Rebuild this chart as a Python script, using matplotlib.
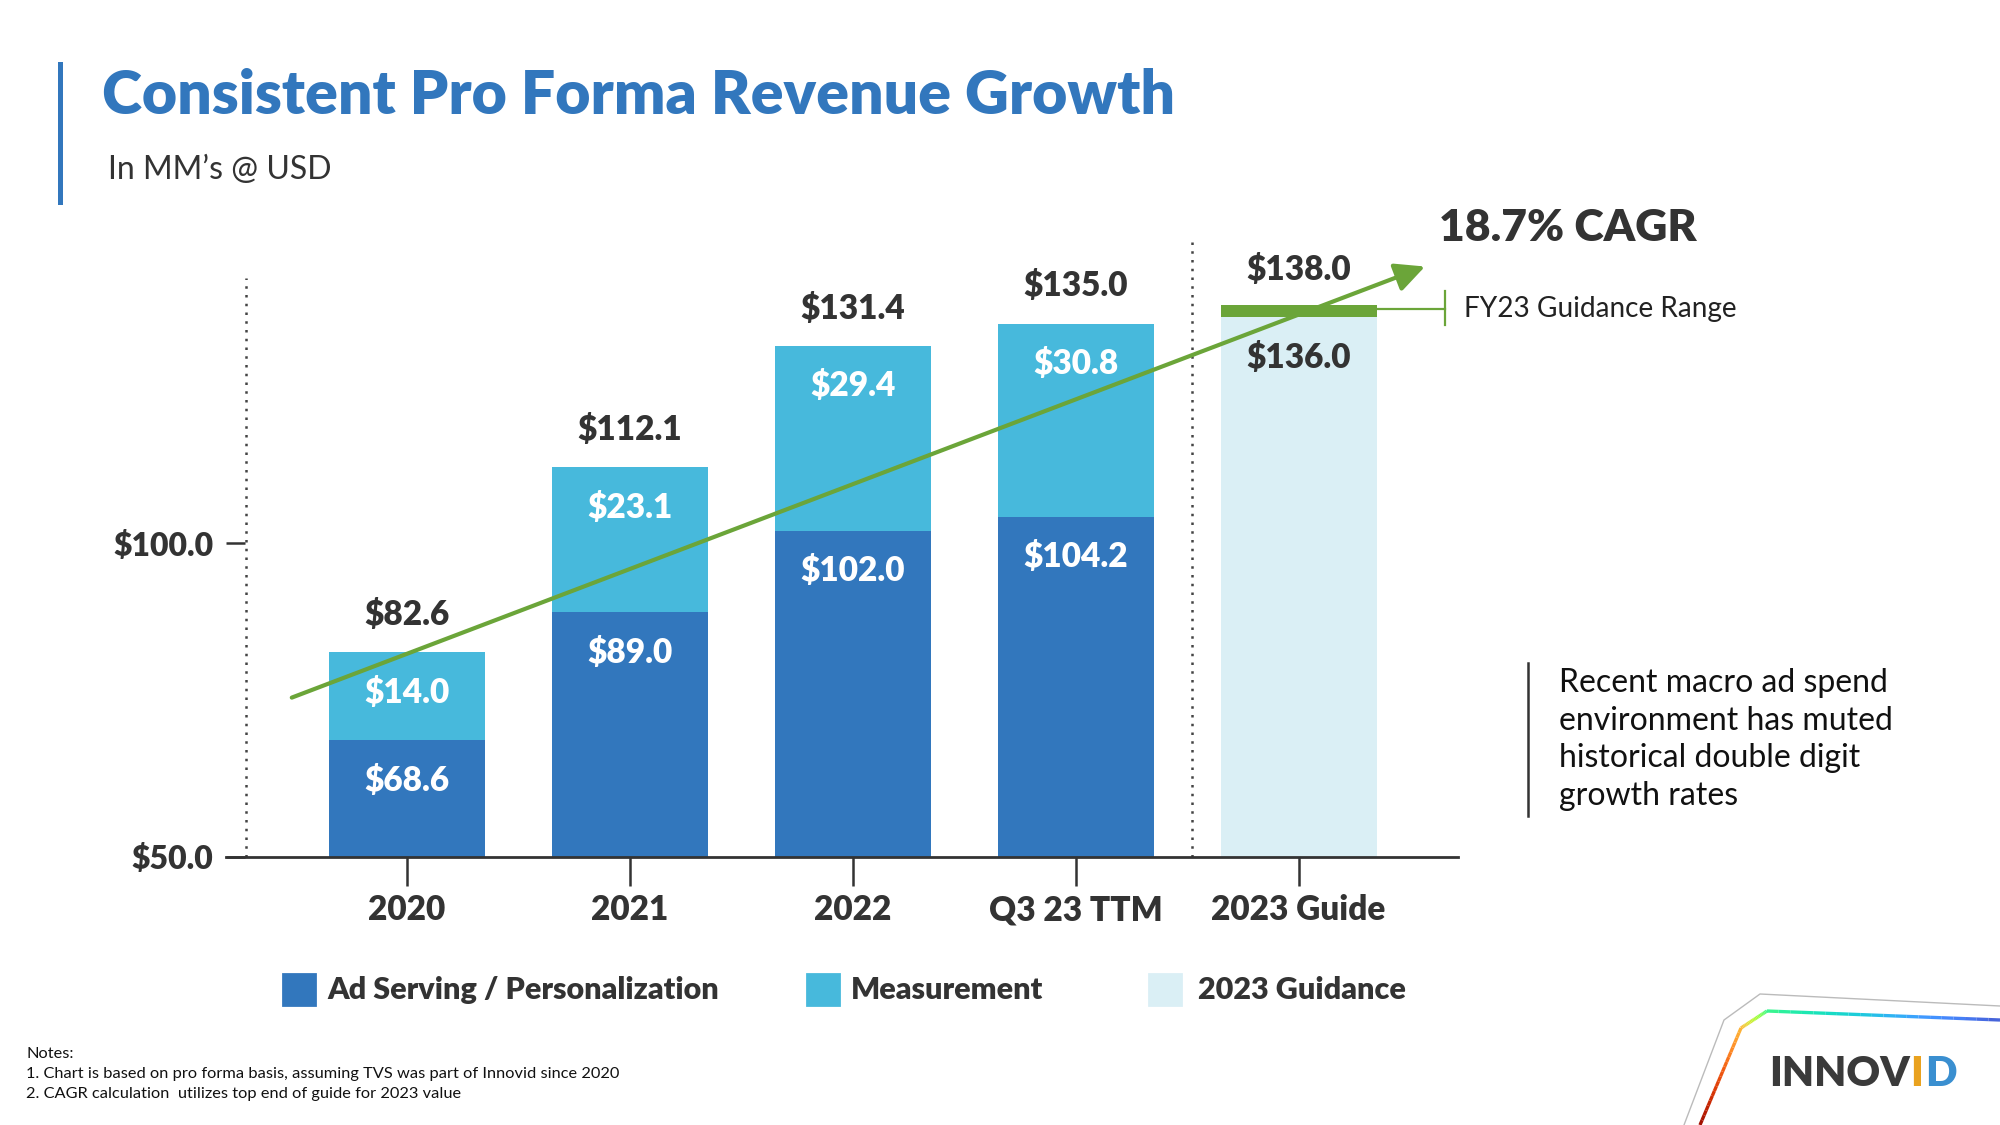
import numpy as np
import matplotlib.pyplot as plt
from matplotlib.patches import Rectangle
from matplotlib.lines import Line2D
from matplotlib.collections import LineCollection

plt.rcParams['font.family'] = ['Lato', 'DejaVu Sans']

# datos
categorias = ['2020', '2021', '2022', 'Q3 23 TTM', '2023 Guide']
ad_serving = [68.6, 89.0, 102.0, 104.2]
medicion = [14.0, 23.1, 29.4, 30.8]
totales = [82.6, 112.1, 131.4, 135.0]
guia_baja = 136.0
guia_alta = 138.0
y_ticks = [50.0, 100.0]
cagr_inicio = 75.4   # punta izquierda de la flecha (lectura del grafico)
cagr_fin = 144.1

azul = '#3277BD'
celeste = '#47B9DC'
guia_color = '#DAEFF5'
verde = '#6BA539'
oscuro = '#333333'

W, H = 2000, 1125
fig = plt.figure(figsize=(10, 5.625), dpi=200)

def fx(px):
    return px / W

def fy(py):
    return 1 - py / H

ax = fig.add_axes([fx(226), fy(857), fx(1458) - fx(226), 100 * 6.275 / H])
ax.set_xlim(-0.81, 4.715)
ax.set_ylim(50, 150)

x = np.arange(len(categorias))
ancho = 0.70
ax.bar(x[:4], ad_serving, width=ancho, color=azul, zorder=2)
ax.bar(x[:4], medicion, bottom=ad_serving, width=ancho, color=celeste, zorder=2)
ax.bar(x[4], guia_baja, width=ancho, color=guia_color, zorder=2)
ax.bar(x[4], guia_alta - guia_baja, bottom=guia_baja, width=ancho, color=verde, zorder=3)

peso = 'heavy'
# etiquetas dentro de las barras
for i in range(4):
    ax.annotate(f'${ad_serving[i]:.1f}', (x[i], ad_serving[i]), xytext=(0, -14.5),
                textcoords='offset points', ha='center', va='center', color='white',
                fontsize=12, fontweight=peso, zorder=5)
    ax.annotate(f'${medicion[i]:.1f}', (x[i], totales[i]), xytext=(0, -14.5),
                textcoords='offset points', ha='center', va='center', color='white',
                fontsize=12, fontweight=peso, zorder=5)
    ax.annotate(f'${totales[i]:.1f}', (x[i], totales[i]), xytext=(0, 13.5),
                textcoords='offset points', ha='center', va='center', color=oscuro,
                fontsize=12, fontweight=peso)
ax.annotate(f'${guia_baja:.1f}', (x[4], guia_baja), xytext=(0, -14.5),
            textcoords='offset points', ha='center', va='center', color=oscuro,
            fontsize=12, fontweight=peso, zorder=5)
ax.annotate(f'${guia_alta:.1f}', (x[4], guia_alta), xytext=(0, 12.5),
            textcoords='offset points', ha='center', va='center', color=oscuro,
            fontsize=12, fontweight=peso)

# lineas punteadas
ax.vlines(-0.72, 50, 142.3, colors='#444444', linestyles=(0, (1, 2.5)), lw=0.9, zorder=1)
ax.vlines(3.52, 50, 149, colors='#444444', linestyles=(0, (1, 2.5)), lw=0.9, zorder=1)

# flecha CAGR
ax.annotate('', xy=(4.567, cagr_fin), xytext=(-0.515, cagr_inicio),
            arrowprops=dict(arrowstyle='-|>,head_length=0.45,head_width=0.22', lw=1.5,
                            color=verde, mutation_scale=20, shrinkA=0, shrinkB=0),
            zorder=6)
ax.text(4.63, 150.3, '18.7% CAGR', ha='left', va='center', fontsize=16,
        fontweight=peso, color=oscuro)

# rango de guia
ax.plot([x[4] + ancho / 2, 4.658], [137.3, 137.3], color=verde, lw=0.8, clip_on=False)
ax.plot([4.658, 4.658], [134.8, 140.2], color=verde, lw=0.8, clip_on=False)
ax.text(4.744, 137.4, 'FY23 Guidance Range', ha='left', va='center', fontsize=10.1,
        color='#222222')

# ejes
for s in ['top', 'right', 'left']:
    ax.spines[s].set_visible(False)
ax.spines['bottom'].set_color(oscuro)
ax.spines['bottom'].set_linewidth(1.0)
ax.set_xticks(x)
ax.set_xticklabels(categorias, fontsize=12, fontweight=peso, color=oscuro)
ax.tick_params(axis='x', length=10.5, width=0.9, color=oscuro, pad=3)
ax.set_yticks(y_ticks)
ax.set_yticklabels([f'${v:.1f}' for v in y_ticks], fontsize=11.5, fontweight=peso, color=oscuro)
ax.tick_params(axis='y', direction='in', length=7, width=0.9, color=oscuro, pad=4.5)

# titulo
fig.add_artist(Line2D([fx(60), fx(60)], [fy(64), fy(202)], color=azul, lw=1.8))
fig.text(fx(102), fy(96), 'Consistent Pro Forma Revenue Growth', ha='left', va='center',
         fontsize=21.9, fontweight=peso, color=azul)
fig.text(fx(108), fy(170), 'In MM\u2019s @ USD', ha='left', va='center', fontsize=11.5,
         color=oscuro)

# leyenda
leyenda = [('Ad Serving / Personalization', azul, 283, 327),
           ('Measurement', celeste, 807, 851),
           ('2023 Guidance', guia_color, 1149, 1198)]
for nombre, color, px, tx in leyenda:
    fig.add_artist(Rectangle((fx(px), fy(1005)), fx(32), 31 / H, color=color))
    fig.text(fx(tx), fy(990), nombre, ha='left', va='center', fontsize=11,
             fontweight=peso, color=oscuro)

# comentario derecho
fig.add_artist(Line2D([fx(1528), fx(1528)], [fy(663), fy(816)], color='#333333', lw=0.9))
fig.text(fx(1559), fy(668), 'Recent macro ad spend\nenvironment has muted\n'
         'historical double digit\ngrowth rates', ha='left', va='top', fontsize=11.5,
         color='#111111', linespacing=1.32)

# notas
fig.text(fx(26), fy(1054), 'Notes:', fontsize=5.9, va='center', color='#111111')
fig.text(fx(26), fy(1074), '1. Chart is based on pro forma basis, assuming TVS was part of Innovid since 2020',
         fontsize=5.9, va='center', color='#111111')
fig.text(fx(26), fy(1094), '2. CAGR calculation  utilizes top end of guide for 2023 value',
         fontsize=5.9, va='center', color='#111111')

# logo
gris = [(1684, 1125), (1724, 1020), (1760, 994), (2000, 1006)]
fig.add_artist(Line2D([fx(p[0]) for p in gris], [fy(p[1]) for p in gris], color='#bbbbbb', lw=0.5))
curva = np.array([(1700, 1125), (1741, 1028), (1767, 1011), (2000, 1020)], dtype=float)
pts = []
for a, b in zip(curva[:-1], curva[1:]):
    for t in np.linspace(0, 1, 20, endpoint=False):
        pts.append(a + (b - a) * t)
pts.append(curva[-1])
pts = np.array(pts)
pts[:, 0] = pts[:, 0] / W
pts[:, 1] = 1 - pts[:, 1] / H
segs = np.stack([pts[:-1], pts[1:]], axis=1)
cm = plt.get_cmap('turbo_r')
cols = [cm(0.05 + 0.85 * i / len(segs)) for i in range(len(segs))]
fig.add_artist(LineCollection(segs, colors=cols, lw=1.2, transform=fig.transFigure))
fig.text(fx(1910), fy(1074), 'INNOV', ha='right', va='center', fontsize=15,
         fontweight=peso, color='#3a3a3a')
fig.text(fx(1910), fy(1074), 'I', ha='left', va='center', fontsize=15,
         fontweight=peso, color='#E9A21F')
fig.text(fx(1925), fy(1074), 'D', ha='left', va='center', fontsize=15,
         fontweight=peso, color='#3A8FD0')

fig.savefig('out.png', dpi=200)
